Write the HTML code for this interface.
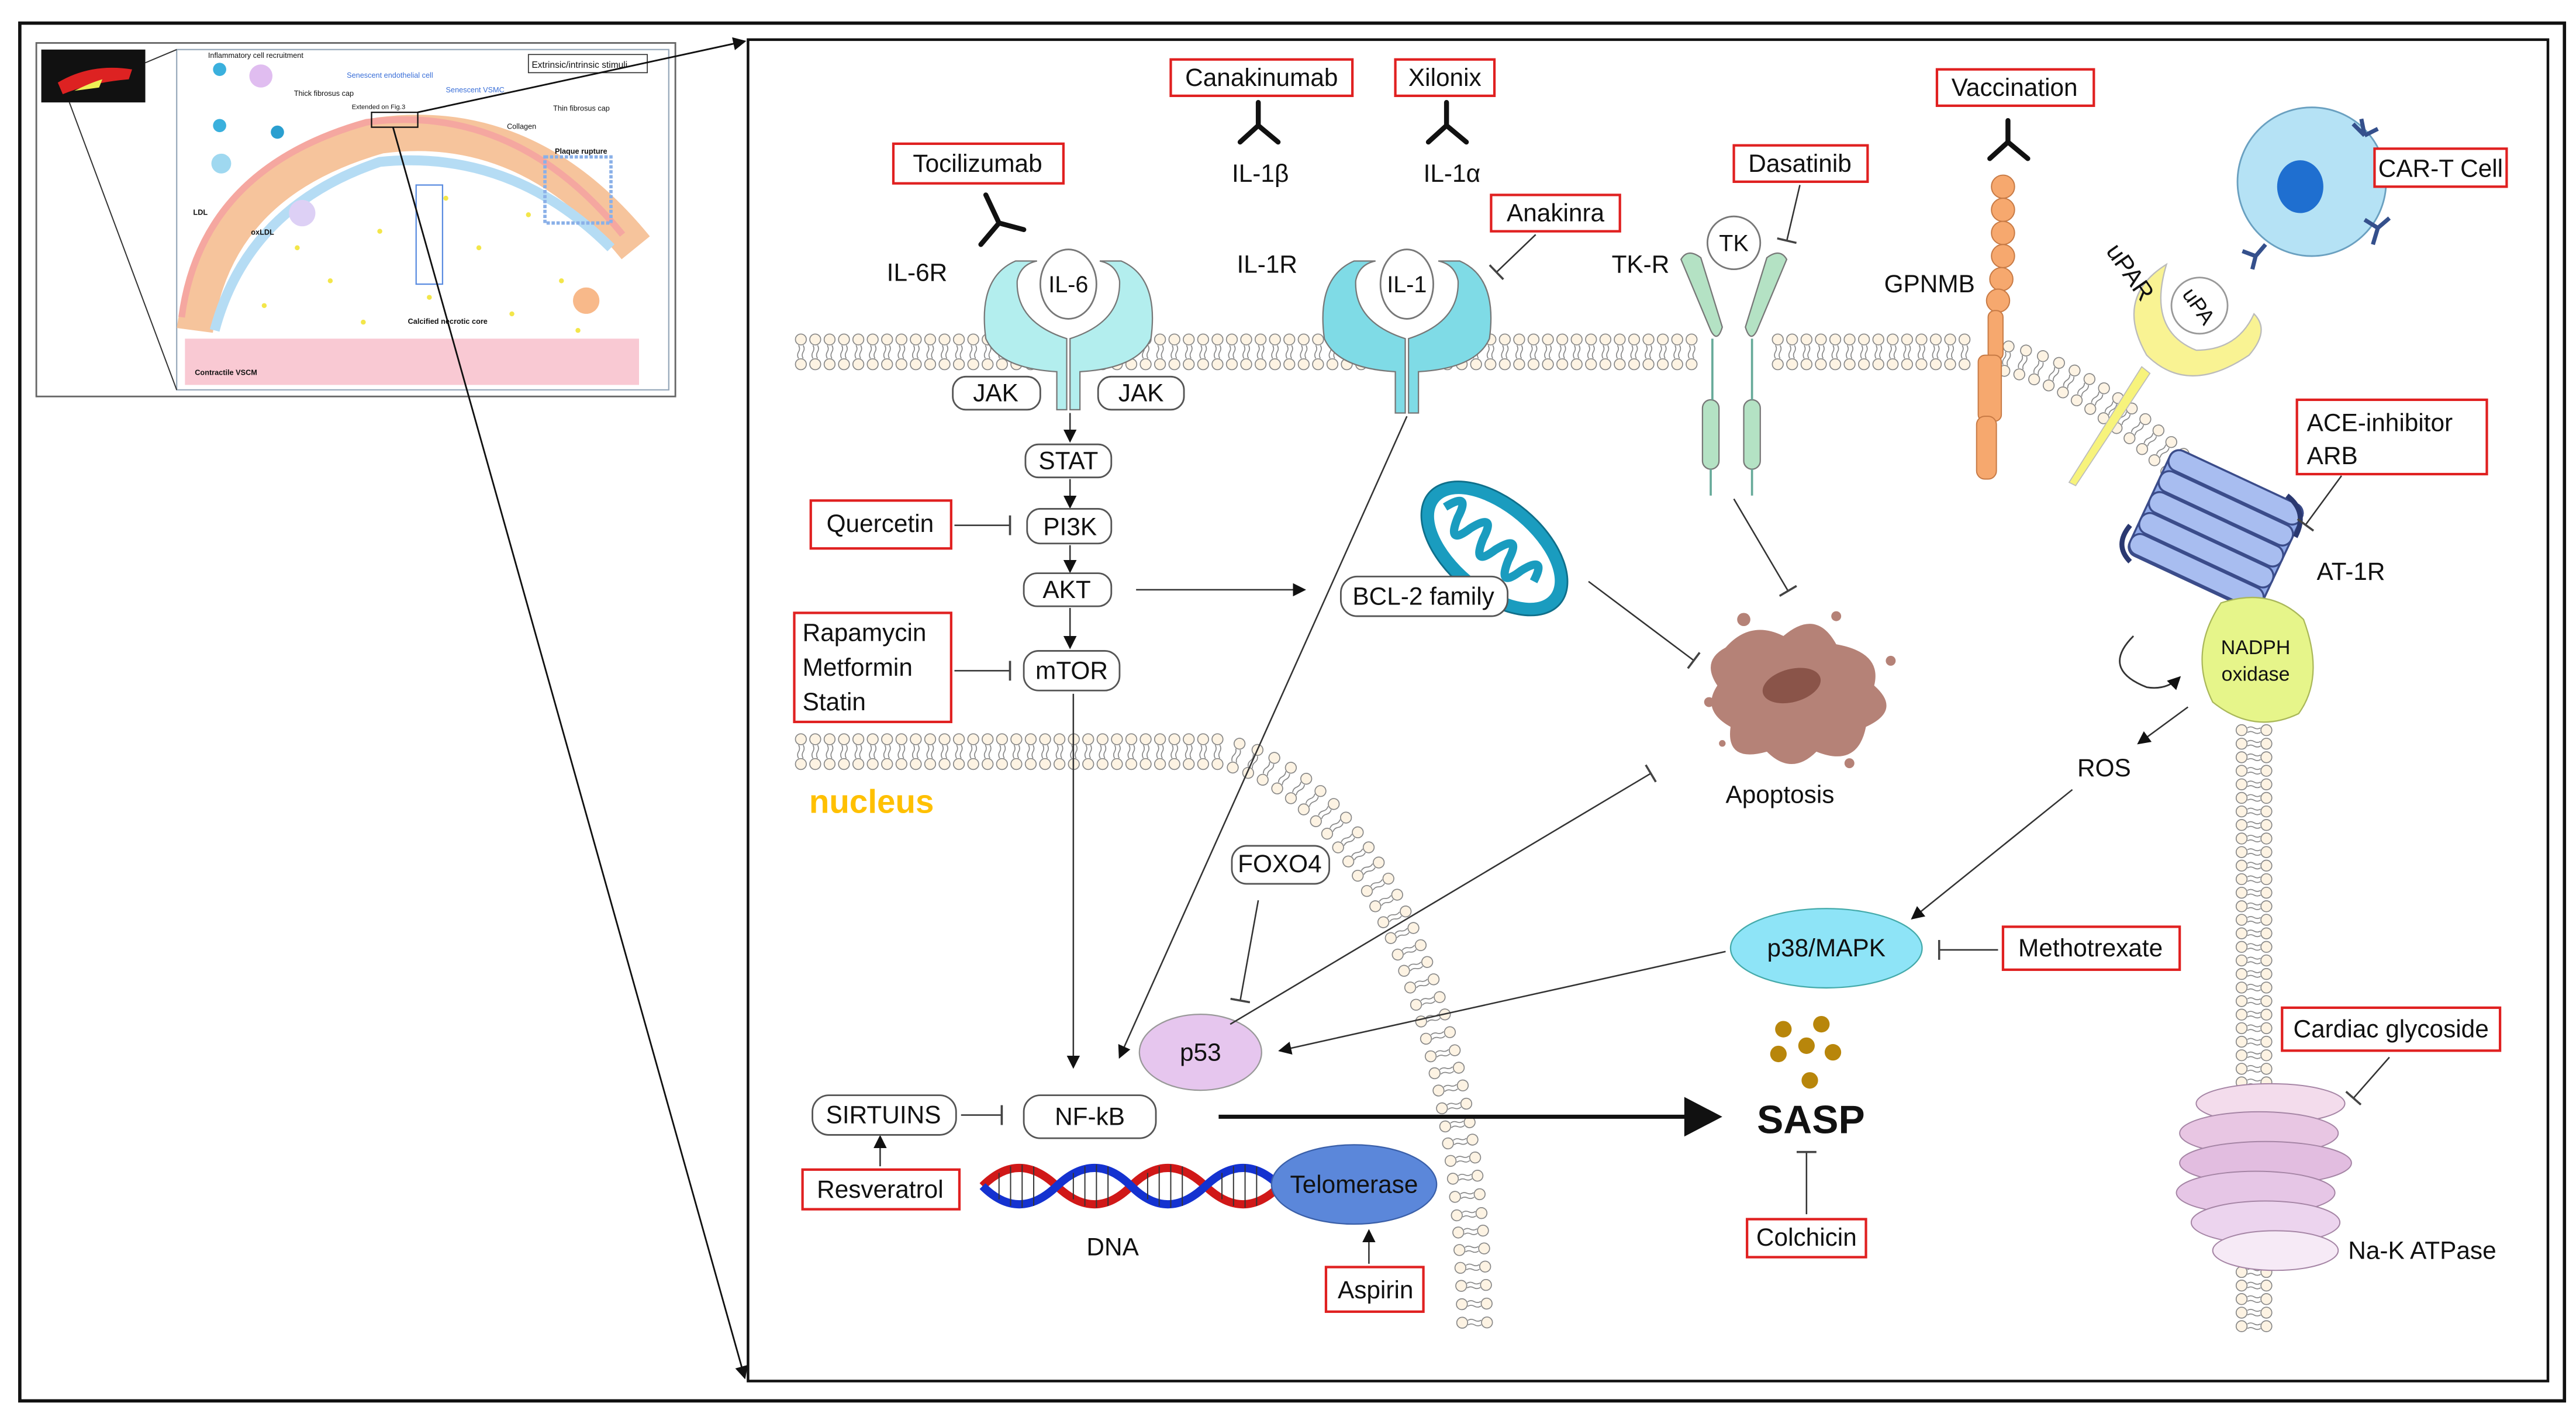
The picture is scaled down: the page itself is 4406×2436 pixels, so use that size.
<!DOCTYPE html>
<html><head><meta charset="utf-8"><style>
html,body{margin:0;padding:0;background:#fff}
svg{display:block}
text{font-family:"Liberation Sans",sans-serif;fill:#111}
</style></head><body>
<svg id="s" xmlns="http://www.w3.org/2000/svg" width="4406" height="2436" viewBox="0 0 1560 862" preserveAspectRatio="none">
<defs>
<marker id="ah" markerWidth="8" markerHeight="8" refX="7" refY="4" orient="auto" markerUnits="userSpaceOnUse"><path d="M0,0 L8,4 L0,8 z" fill="#111"/></marker>
<marker id="tb" markerWidth="2" markerHeight="12" refX="1" refY="6" orient="auto" markerUnits="userSpaceOnUse"><rect x="0" y="0" width="1.3" height="12" fill="#444"/></marker>
</defs>
<rect x="0" y="0" width="1560" height="862" fill="#fff"/>
<rect x="12" y="14" width="1541" height="834" fill="none" stroke="#111" stroke-width="2"/>
<!-- inset -->
<rect x="22" y="26" width="387" height="214" fill="#fff" stroke="#666" stroke-width="1"/>
<rect x="107" y="30" width="298" height="206" fill="#fff" stroke="#9ab" stroke-width="0.8"/>
<rect x="25" y="30" width="63" height="32" fill="#111"/>
<path d="M35,50 Q55,38 80,42 L78,48 Q55,50 38,57z" fill="#d22"/>
<path d="M45,55 Q55,50 62,48 L60,53z" fill="#ee5"/>
<line x1="88" y1="38" x2="107" y2="30" stroke="#333" stroke-width="0.7"/>
<line x1="42" y1="62" x2="107" y2="236" stroke="#333" stroke-width="0.7"/>
<path d="M118,200 Q130,110 230,82 Q320,70 385,150" fill="none" stroke="#f6c49c" stroke-width="22"/>
<path d="M118,200 Q130,110 230,82 Q320,70 385,150" fill="none" stroke="#f5a7a0" stroke-width="4" transform="translate(-8,-8)"/>
<path d="M130,200 Q150,125 230,98 Q310,90 370,150" fill="none" stroke="#b5dcf4" stroke-width="6"/>
<rect x="112" y="205" width="275" height="28" fill="#f9c9d3"/>
<g fill="#f3e64a">
<circle cx="180" cy="150" r="1.5"/><circle cx="200" cy="170" r="1.5"/><circle cx="230" cy="140" r="1.5"/><circle cx="260" cy="180" r="1.5"/><circle cx="290" cy="150" r="1.5"/><circle cx="310" cy="190" r="1.5"/><circle cx="340" cy="170" r="1.5"/><circle cx="220" cy="195" r="1.5"/><circle cx="270" cy="120" r="1.5"/><circle cx="160" cy="185" r="1.5"/><circle cx="320" cy="130" r="1.5"/><circle cx="350" cy="200" r="1.5"/>
</g>
<rect x="330" y="95" width="40" height="40" fill="none" stroke="#8ab0e8" stroke-width="2" stroke-dasharray="2 1"/>
<rect x="252" y="112" width="16" height="60" fill="none" stroke="#5a8ce0" stroke-width="0.8"/>
<circle cx="133" cy="42" r="4" fill="#3ab0dd"/><circle cx="158" cy="46" r="7" fill="#e0bdf0"/><circle cx="133" cy="76" r="4" fill="#3ab0dd"/><circle cx="168" cy="80" r="4" fill="#2a9fd0"/><circle cx="134" cy="99" r="6" fill="#9fd8f0"/><circle cx="183" cy="129" r="8" fill="#ddd0f5"/><circle cx="355" cy="182" r="8" fill="#f8b98a"/>
<g font-size="4.5" fill="#333">
<text x="126" y="35">Inflammatory cell recruitment</text>
<text x="210" y="47" style="fill:#3a6fd8">Senescent endothelial cell</text>
<text x="270" y="56" style="fill:#3a6fd8">Senescent VSMC</text>
<text x="178" y="58">Thick fibrosus cap</text>
<text x="213" y="66" font-size="4">Extended on Fig.3</text>
<text x="335" y="67">Thin fibrosus cap</text>
<text x="307" y="78">Collagen</text>
<text x="336" y="93" font-weight="bold">Plaque rupture</text>
<text x="247" y="196" font-weight="bold">Calcified necrotic core</text>
<text x="118" y="227" font-weight="bold">Contractile VSCM</text>
<text x="117" y="130" font-weight="bold">LDL</text>
<text x="152" y="142" font-weight="bold">oxLDL</text>
</g>
<rect x="320" y="33" width="72" height="11" fill="#fff" stroke="#333" stroke-width="0.6"/>
<text x="322" y="41" font-size="5.5">Extrinsic/intrinsic stimuli</text>
<rect x="225" y="68" width="28" height="9" fill="none" stroke="#111" stroke-width="0.8"/>
<line x1="253" y1="68" x2="451" y2="25" stroke="#111" stroke-width="1" marker-end="url(#ah)"/>
<line x1="238" y1="77" x2="451" y2="834" stroke="#111" stroke-width="1" marker-end="url(#ah)"/>
<!-- main panel -->
<rect x="453" y="24" width="1090" height="812" fill="none" stroke="#111" stroke-width="1.6"/>
<g id="lip"></g>
<!-- IL-6R -->
<g stroke="#777" stroke-width="0.8" fill="#b3eeee">
<path d="M615,158 Q592,168 597,205 Q605,223 640,225 L640,248 L646,248 L646,205 Q615,195 616,170 Q618,160 628,158 Z"/>
<path d="M679,158 Q702,168 697,205 Q689,223 654,225 L654,248 L648,248 L648,205 Q679,195 678,170 Q676,160 666,158 Z"/>
</g>
<ellipse cx="647" cy="172" rx="17" ry="21" fill="#fff" stroke="#777"/>
<text x="647" y="177" font-size="14" text-anchor="middle">IL-6</text>
<!-- IL-1R -->
<g stroke="#777" stroke-width="0.8" fill="#7fdbe6">
<path d="M820,158 Q797,168 802,205 Q810,223 845,225 L845,250 L851,250 L851,205 Q820,195 821,170 Q823,160 833,158 Z"/>
<path d="M884,158 Q907,168 902,205 Q894,223 859,225 L859,250 L853,250 L853,205 Q884,195 883,170 Q881,160 871,158 Z"/>
</g>
<ellipse cx="852" cy="172" rx="16" ry="21" fill="#fff" stroke="#777"/>
<text x="852" y="177" font-size="14" text-anchor="middle">IL-1</text>
<!-- TK-R -->
<g stroke="#777" stroke-width="0.8" fill="#b4e2c4">
<path d="M1018,157 Q1022,150 1030,156 L1043,198 Q1040,208 1036,200 Z"/>
<path d="M1082,157 Q1078,150 1070,156 L1057,198 Q1060,208 1064,200 Z"/>
<rect x="1031" y="242" width="10" height="42" rx="5"/>
<rect x="1056" y="242" width="10" height="42" rx="5"/>
</g>
<g stroke="#6a9" stroke-width="1.3">
<line x1="1037" y1="205" x2="1037" y2="242"/><line x1="1061" y1="205" x2="1061" y2="242"/>
<line x1="1036" y1="284" x2="1036" y2="300"/><line x1="1061" y1="284" x2="1061" y2="300"/>
</g>
<circle cx="1050" cy="147" r="16" fill="#fff" stroke="#777"/>
<text x="1050" y="152" font-size="14" text-anchor="middle">TK</text>
<!-- GPNMB -->
<g fill="#f6a86e" stroke="#c77a45" stroke-width="0.7">
<circle cx="1213" cy="113" r="7"/><circle cx="1213" cy="127" r="7"/><circle cx="1213" cy="141" r="7"/><circle cx="1213" cy="155" r="7"/><circle cx="1212" cy="169" r="7"/><circle cx="1210" cy="182" r="7"/>
<rect x="1204" y="188" width="9" height="30" rx="4"/>
<rect x="1198" y="215" width="14" height="40" rx="4"/>
<rect x="1197" y="252" width="12" height="38" rx="5"/>
</g>
<!-- uPAR -->
<path d="M1297,222 L1253,292 L1257,294 L1302,226z" fill="#f7f37c" stroke="#bbb" stroke-width="0.6"/>
<path d="M1312,160 Q1280,180 1300,215 Q1325,240 1362,215 Q1375,200 1365,190 Q1355,212 1330,212 Q1300,200 1312,160z" fill="#f9f393" stroke="#bbb" stroke-width="0.8"/>
<circle cx="1332" cy="185" r="17" fill="#fff" stroke="#999"/>
<text x="1332" y="190" font-size="13" text-anchor="middle" transform="rotate(55 1332 185)">uPA</text>
<text x="1275" y="152" font-size="15" transform="rotate(55 1275 152)">uPAR</text>
<!-- CAR-T -->
<circle cx="1400" cy="110" r="45" fill="#b5e2f5" stroke="#6aa0c0" stroke-width="1"/>
<ellipse cx="1393" cy="113" rx="14" ry="16" fill="#1f6fd0"/>
<g stroke="#35508c" stroke-width="2.5" fill="none">
<path d="M1425,75 L1432,82 M1432,82 L1430,72 M1432,82 L1440,78"/>
<path d="M1432,133 L1440,138 M1440,138 L1437,148 M1440,138 L1447,132"/>
<path d="M1372,148 L1366,155 M1366,155 L1358,152 M1366,155 L1364,163"/>
</g>
<!-- AT-1R -->
<g transform="rotate(25 1340 320)">
<rect x="1298" y="285" width="88" height="70" rx="6" fill="#8ea8e8" stroke="#3b4c8a" stroke-width="1.2"/>
<g stroke="#3b4c8a" stroke-width="1.2" fill="#a8bdf0">
<rect x="1298" y="285" width="88" height="13" rx="6"/><rect x="1298" y="299" width="88" height="13" rx="6"/><rect x="1298" y="313" width="88" height="13" rx="6"/><rect x="1298" y="327" width="88" height="13" rx="6"/><rect x="1298" y="341" width="88" height="13" rx="6"/>
</g>
</g>
<path d="M1290,318 Q1280,330 1290,340 M1385,300 Q1398,310 1390,325" stroke="#2a3870" stroke-width="3" fill="none"/>
<!-- NADPH -->
<path d="M1345,365 Q1375,355 1395,375 Q1408,410 1392,432 Q1365,445 1340,425 Q1325,395 1345,365z" fill="#e6f58a" stroke="#aab85a" stroke-width="0.8"/>
<text x="1366" y="396" font-size="12" text-anchor="middle">NADPH</text>
<text x="1366" y="412" font-size="12" text-anchor="middle">oxidase</text>
<path d="M1292,385 Q1272,405 1300,416 Q1312,418 1320,410" fill="none" stroke="#333" stroke-width="1" marker-end="url(#ah)"/>
<!-- Na-K ATPase -->
<g stroke="#a585a5" stroke-width="0.7">
<ellipse cx="1375" cy="668" rx="45" ry="12" fill="#f3dcec"/>
<ellipse cx="1368" cy="686" rx="48" ry="13" fill="#e8c6e3"/>
<ellipse cx="1372" cy="704" rx="52" ry="13" fill="#e2bde0"/>
<ellipse cx="1366" cy="722" rx="48" ry="13" fill="#e6c6e6"/>
<ellipse cx="1372" cy="740" rx="45" ry="13" fill="#ecd4ee"/>
<ellipse cx="1378" cy="757" rx="38" ry="12" fill="#f6eaf6"/>
</g>
<!-- mitochondrion -->
<g transform="rotate(40 905 332)">
<ellipse cx="905" cy="332" rx="52" ry="30" fill="#1a9cbf" stroke="#0f6f8a"/>
<ellipse cx="905" cy="332" rx="44" ry="22" fill="#fff"/>
<path d="M866,332 q6,-18 10,0 q6,18 10,0 q6,-18 10,0 q6,18 10,0 q6,-18 10,0 q6,18 10,0 q6,-18 10,0" fill="none" stroke="#1a9cbf" stroke-width="5"/>
</g>
<!-- apoptosis -->
<path d="M1045,392 Q1060,375 1080,385 Q1100,368 1112,390 Q1140,395 1135,415 Q1152,430 1130,440 Q1125,465 1100,455 Q1085,470 1070,455 Q1045,462 1048,440 Q1030,430 1040,415 Q1030,400 1045,392z" fill="#b58277"/>
<circle cx="1056" cy="375" r="4" fill="#b58277"/><circle cx="1112" cy="373" r="3" fill="#b58277"/><circle cx="1145" cy="400" r="3" fill="#b58277"/><circle cx="1035" cy="425" r="3" fill="#b58277"/><circle cx="1120" cy="462" r="3" fill="#b58277"/><circle cx="1043" cy="450" r="2" fill="#b58277"/>
<ellipse cx="1085" cy="415" rx="18" ry="10" fill="#8a5449" transform="rotate(-15 1085 415)"/>
<!-- ellipses -->
<ellipse cx="1106" cy="574" rx="58" ry="24" fill="#8ee4f7" stroke="#4aa" stroke-width="0.8"/>
<text x="1106" y="579" font-size="15" text-anchor="middle">p38/MAPK</text>
<ellipse cx="727" cy="637" rx="37" ry="23" fill="#e6c6ee" stroke="#999" stroke-width="0.8"/>
<text x="727" y="642" font-size="15" text-anchor="middle">p53</text>
<!-- DNA -->
<path d="M595,718 q22,-22 45,0 t45,0 t45,0 t45,0" fill="none" stroke="#d01818" stroke-width="5"/>
<path d="M595,718 q22,22 45,0 t45,0 t45,0 t45,0" fill="none" stroke="#1432d0" stroke-width="5"/>
<g stroke="#333" stroke-width="0.7">
<line x1="605" y1="710" x2="605" y2="726"/><line x1="612" y1="706" x2="612" y2="730"/><line x1="619" y1="705" x2="619" y2="731"/><line x1="626" y1="706" x2="626" y2="730"/><line x1="650" y1="710" x2="650" y2="726"/><line x1="657" y1="706" x2="657" y2="730"/><line x1="664" y1="705" x2="664" y2="731"/><line x1="671" y1="706" x2="671" y2="730"/><line x1="695" y1="710" x2="695" y2="726"/><line x1="702" y1="706" x2="702" y2="730"/><line x1="709" y1="705" x2="709" y2="731"/><line x1="716" y1="706" x2="716" y2="730"/><line x1="740" y1="710" x2="740" y2="726"/><line x1="747" y1="706" x2="747" y2="730"/><line x1="754" y1="705" x2="754" y2="731"/><line x1="761" y1="706" x2="761" y2="730"/>
</g>
<ellipse cx="820" cy="717" rx="50" ry="24" fill="#5b87da" stroke="#3a5fa8" stroke-width="0.8"/>
<text x="820" y="722" font-size="15" text-anchor="middle">Telomerase</text>
<!-- SASP dots -->
<g fill="#b8860b"><circle cx="1080" cy="623" r="5"/><circle cx="1103" cy="620" r="5"/><circle cx="1077" cy="638" r="5"/><circle cx="1094" cy="633" r="5"/><circle cx="1110" cy="637" r="5"/><circle cx="1096" cy="654" r="5"/></g>
<!-- antibodies -->
<g stroke="#111" stroke-width="3" fill="none" stroke-linecap="round">
<path d="M762,62 L762,76 M762,76 L751,86 M762,76 L774,86"/>
<path d="M876,62 L876,76 M876,76 L865,86 M876,76 L888,86"/>
<path d="M1216,73 L1216,86 M1216,86 L1205,96 M1216,86 L1228,96"/>
<path d="M597,118 L605,135 M605,135 L594,148 M605,135 L620,139"/>
</g>
<!-- connectors -->
<g stroke="#333" stroke-width="0.9" fill="none">
<line x1="648" y1="250" x2="648" y2="267" marker-end="url(#ah)"/>
<line x1="648" y1="290" x2="648" y2="307" marker-end="url(#ah)"/>
<line x1="648" y1="330" x2="648" y2="346" marker-end="url(#ah)"/>
<line x1="648" y1="368" x2="648" y2="392" marker-end="url(#ah)"/>
<line x1="688" y1="357" x2="790" y2="357" marker-end="url(#ah)"/>
<line x1="650" y1="420" x2="650" y2="646" marker-end="url(#ah)"/>
<line x1="852" y1="252" x2="678" y2="640" marker-end="url(#ah)"/>
<line x1="578" y1="318" x2="612" y2="318" marker-end="url(#tb)"/>
<line x1="578" y1="406" x2="612" y2="406" marker-end="url(#tb)"/>
<line x1="930" y1="142" x2="906" y2="165" marker-end="url(#tb)"/>
<line x1="1090" y1="112" x2="1082" y2="146" marker-end="url(#tb)"/>
<line x1="1418" y1="288" x2="1396" y2="318" marker-end="url(#tb)"/>
<line x1="1447" y1="640" x2="1425" y2="665" marker-end="url(#tb)"/>
<line x1="1050" y1="302" x2="1083" y2="358" marker-end="url(#tb)"/>
<line x1="962" y1="352" x2="1026" y2="400" marker-end="url(#tb)"/>
<line x1="745" y1="620" x2="1000" y2="468" marker-end="url(#tb)"/>
<line x1="762" y1="545" x2="751" y2="606" marker-end="url(#tb)"/>
<line x1="1045" y1="576" x2="775" y2="636" marker-end="url(#ah)"/>
<line x1="1255" y1="478" x2="1158" y2="556" marker-end="url(#ah)"/>
<line x1="1325" y1="428" x2="1295" y2="450" marker-end="url(#ah)"/>
<line x1="1210" y1="575" x2="1174" y2="575" marker-end="url(#tb)"/>
<line x1="582" y1="675" x2="607" y2="675" marker-end="url(#tb)"/>
<line x1="533" y1="706" x2="533" y2="688" marker-end="url(#ah)"/>
<line x1="829" y1="765" x2="829" y2="745" marker-end="url(#ah)"/>
<line x1="1094" y1="735" x2="1094" y2="697" marker-end="url(#tb)"/>
</g>
<line x1="738" y1="676" x2="1022" y2="676" stroke="#111" stroke-width="2.5"/>
<path d="M1020,664 L1043,676 L1020,688z" fill="#111"/>
<!-- pill boxes -->
<g fill="#fff" stroke="#555" stroke-width="1">
<rect x="577" y="228" width="53" height="20" rx="8"/><rect x="665" y="228" width="52" height="20" rx="8"/>
<rect x="621" y="269" width="52" height="20" rx="8"/><rect x="622" y="308" width="51" height="21" rx="8"/>
<rect x="620" y="347" width="53" height="20" rx="8"/><rect x="620" y="394" width="58" height="24" rx="9"/>
<rect x="812" y="349" width="101" height="24" rx="10"/><rect x="746" y="512" width="59" height="23" rx="9"/>
<rect x="492" y="663" width="87" height="24" rx="10"/><rect x="620" y="663" width="80" height="26" rx="10"/>
</g>
<g font-size="15" text-anchor="middle">
<text x="603" y="243">JAK</text><text x="691" y="243">JAK</text>
<text x="647" y="284">STAT</text><text x="648" y="324">PI3K</text>
<text x="646" y="362">AKT</text><text x="649" y="411">mTOR</text>
<text x="862" y="366">BCL-2 family</text><text x="775" y="528">FOXO4</text>
<text x="535" y="680">SIRTUINS</text><text x="660" y="681">NF-kB</text>
</g>
<!-- red boxes -->
<g fill="#fff" stroke="#e02020" stroke-width="1.5">
<rect x="541" y="87" width="103" height="24"/><rect x="709" y="36" width="110" height="22"/><rect x="845" y="36" width="60" height="22"/>
<rect x="1173" y="42" width="95" height="22"/><rect x="903" y="118" width="78" height="22"/><rect x="1050" y="88" width="81" height="22"/>
<rect x="1438" y="90" width="80" height="23"/><rect x="1391" y="242" width="115" height="45"/><rect x="491" y="303" width="85" height="29"/>
<rect x="481" y="371" width="95" height="66"/><rect x="1213" y="561" width="107" height="26"/><rect x="1382" y="610" width="132" height="26"/>
<rect x="486" y="708" width="95" height="24"/><rect x="803" y="767" width="59" height="27"/><rect x="1058" y="738" width="72" height="23"/>
</g>
<g font-size="15">
<text x="592" y="104" text-anchor="middle">Tocilizumab</text>
<text x="764" y="52" text-anchor="middle">Canakinumab</text>
<text x="875" y="52" text-anchor="middle">Xilonix</text>
<text x="1220" y="58" text-anchor="middle">Vaccination</text>
<text x="942" y="134" text-anchor="middle">Anakinra</text>
<text x="1090" y="104" text-anchor="middle">Dasatinib</text>
<text x="1478" y="107" text-anchor="middle">CAR-T Cell</text>
<text x="1397" y="261">ACE-inhibitor</text><text x="1397" y="281">ARB</text>
<text x="533" y="322" text-anchor="middle">Quercetin</text>
<text x="486" y="388">Rapamycin</text><text x="486" y="409">Metformin</text><text x="486" y="430">Statin</text>
<text x="1266" y="579" text-anchor="middle">Methotrexate</text>
<text x="1448" y="628" text-anchor="middle">Cardiac glycoside</text>
<text x="533" y="725" text-anchor="middle">Resveratrol</text>
<text x="833" y="786" text-anchor="middle">Aspirin</text>
<text x="1094" y="754" text-anchor="middle">Colchicin</text>
<text x="537" y="170">IL-6R</text><text x="746" y="110">IL-1β</text><text x="862" y="110">IL-1α</text>
<text x="749" y="165">IL-1R</text><text x="976" y="165">TK-R</text><text x="1141" y="177">GPNMB</text>
<text x="1403" y="351">AT-1R</text><text x="1258" y="470">ROS</text><text x="1045" y="486">Apoptosis</text>
<text x="658" y="760">DNA</text><text x="1422" y="762">Na-K ATPase</text>
</g>
<text x="490" y="492" font-size="20" font-weight="bold" style="fill:#ffc000">nucleus</text>
<text x="1064" y="686" font-size="24" font-weight="bold">SASP</text>
</svg>
<script>
(function(){
var g=document.getElementById('lip'),h='';
function lip(x,y,a){
 h+='<g transform="translate('+x.toFixed(1)+','+y.toFixed(1)+') rotate('+a.toFixed(1)+')">'+
 '<path d="M-1.4,-4 q1.2,2 0,4 q-1.2,2 0,4 M1.4,-4 q1.2,2 0,4 q-1.2,2 0,4" stroke="#888" stroke-width="0.6" fill="none"/>'+
 '<circle cx="0" cy="-7.5" r="3.3" fill="#fdf3e3" stroke="#888" stroke-width="0.6"/>'+
 '<circle cx="0" cy="7.5" r="3.3" fill="#fdf3e3" stroke="#888" stroke-width="0.6"/></g>';
}
function skip(x){return (x>632&&x<662)||(x>838&&x<868)||(x>1030&&x<1068)||(x>1194&&x<1216);}
for(var x=485;x<1195;x+=8.7){if(!skip(x))lip(x,213,0);}
function bez(p,t){var u=1-t;return [u*u*u*p[0]+3*u*u*t*p[2]+3*u*t*t*p[4]+t*t*t*p[6],u*u*u*p[1]+3*u*u*t*p[3]+3*u*t*t*p[5]+t*t*t*p[7]];}
function along(p,step,start){
 var N=600,prev=bez(p,0),acc=start;
 for(var i=1;i<=N;i++){var c=bez(p,i/N);var d=Math.hypot(c[0]-prev[0],c[1]-prev[1]);acc+=d;
  if(acc>=step){acc=0;var ang=Math.atan2(c[1]-prev[1],c[0]-prev[0])*180/Math.PI;lip(c[0],c[1],ang);}prev=c;}
}
along([1205,216,1245,218,1290,252,1325,288],10,0);
for(var x=485;x<738;x+=8.7)lip(x,455,0);
along([738,455,820,468,893,600,893,810],10.5,0);
for(var y=442;y<808;y+=8.2)lip(1365,y,90);
g.innerHTML=h;
})();
</script>
</body></html>
